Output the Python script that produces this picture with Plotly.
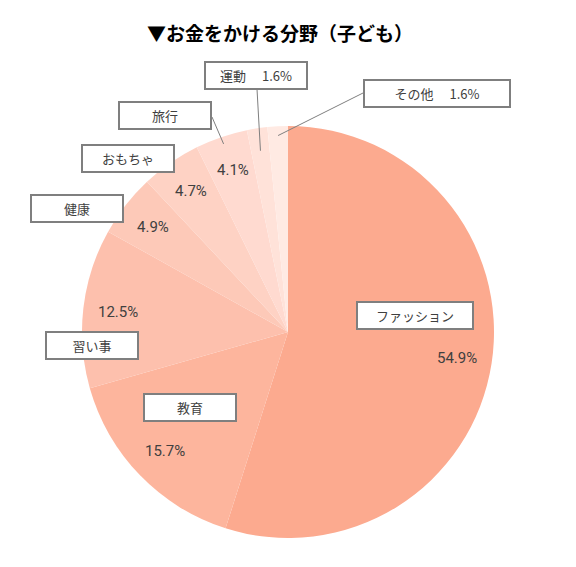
import math

import plotly.graph_objects as go

W, H = 576, 567
# the page body has an 8px margin, so the figure starts at (8, 8) in the window
OX, OY = 8, 8
FW, FH = W - OX, H - OY

categories = ["ファッション", "教育", "習い事", "健康", "おもちゃ", "旅行", "運動", "その他"]
shares = [54.9, 15.7, 12.5, 4.9, 4.7, 4.1, 1.6, 1.6]
colors = ["#FCAA8F", "#FDB59D", "#FDC0AD", "#FDC9B8", "#FED2C4", "#FFDAD0", "#FFE2D9", "#FFEAE3"]

# slices whose percentage sits inside the label box
pct_in_box = ["運動", "その他"]

# pie placement (window pixels)
CX, CY, R = 288, 332, 206

# label box centres and sizes in window pixels
box_pos = {
    "ファッション": (415, 316, 118, 29),
    "教育": (190, 407, 94, 29),
    "習い事": (92, 345, 94, 29),
    "健康": (77, 208, 94, 29),
    "おもちゃ": (128, 158, 94, 29),
    "旅行": (165, 116, 94, 29),
    "運動": (256, 75, 104, 29),
    "その他": (437, 93, 148, 29),
}
# leader lines: box anchor point and radius fraction of the inner end
leaders = {
    "旅行": ((212, 117), 0.965),
    "運動": ((257, 89), 0.89),
    "その他": ((363, 93), 0.955),
}


def px(x):
    return (x - OX) / FW


def py(y):
    return 1 - (y - OY) / FH


def mid_point(i, frac):
    start = sum(shares[:i]) / sum(shares)
    mid = (start + shares[i] / 2 / sum(shares)) * 2 * math.pi
    return CX + frac * R * math.sin(mid), CY - frac * R * math.cos(mid)


fig = go.Figure(
    go.Pie(
        labels=categories,
        values=shares,
        sort=False,
        direction="clockwise",
        rotation=0,
        marker=dict(colors=colors, line=dict(width=0)),
        textinfo="none",
        hoverinfo="label+percent",
        showlegend=False,
        domain=dict(x=[px(CX - R), px(CX + R)], y=[py(CY + R), py(CY - R)]),
    )
)

annotations = []
shapes = []
for i, (cat, val) in enumerate(zip(categories, shares)):
    bx, by, bw, bh = box_pos[cat]
    text = f"{cat}　 {val}%" if cat in pct_in_box else cat
    annotations.append(dict(
        x=px(bx), y=py(by), xref="paper", yref="paper",
        xanchor="center", yanchor="middle",
        text=text, showarrow=False,
        width=bw - 4, height=bh - 4, borderpad=0,
        bgcolor="white", bordercolor="#7F7F7F", borderwidth=2,
        font=dict(family="Noto Sans CJK JP", size=13, color="#404040"),
    ))
    if cat not in pct_in_box:
        tx, ty = mid_point(i, 0.83)
        annotations.append(dict(
            x=px(tx), y=py(ty), xref="paper", yref="paper",
            xanchor="center", yanchor="middle",
            text=f"{val}%", showarrow=False,
            font=dict(family="Roboto", size=15, color="#404040"),
        ))
    if cat in leaders:
        (ax, ay), frac = leaders[cat]
        ex, ey = mid_point(i, frac)
        shapes.append(dict(
            type="line", xref="paper", yref="paper",
            x0=px(ax), y0=py(ay), x1=px(ex), y1=py(ey),
            line=dict(color="#7F7F7F", width=1),
        ))

fig.update_layout(
    width=FW,
    height=FH,
    margin=dict(l=0, r=0, t=0, b=0),
    paper_bgcolor="white",
    plot_bgcolor="white",
    title=dict(
        text="<b>▼お金をかける分野（子ども）</b>",
        x=px(280), xanchor="center", y=py(34), yanchor="middle",
        font=dict(family="Noto Sans CJK JP", size=19, color="#000000"),
    ),
    annotations=annotations,
    shapes=shapes,
)

fig.write_html("out.html")
